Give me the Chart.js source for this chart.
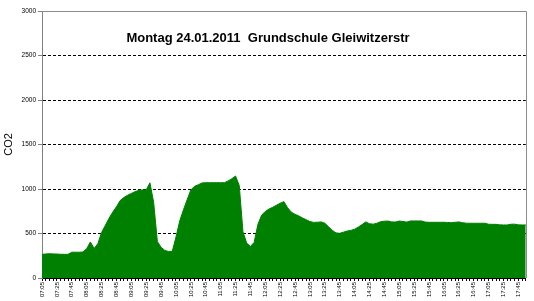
<!DOCTYPE html>
<html>
<head>
<meta charset="utf-8">
<script src="https://cdn.jsdelivr.net/npm/chart.js@4"></script>
<style>
  html, body { margin: 0; padding: 0; background: #fff; }
  #wrap { width: 534px; height: 301px; }
</style>
</head>
<body>
<div id="wrap"><canvas id="co2-chart"></canvas></div>
<script>
const chartTitle = 'Montag 24.01.2011  Grundschule Gleiwitzerstr';

// measurement times, every 5 minutes
const times = [
  '07:05','07:10','07:15','07:20','07:25','07:30','07:35','07:40','07:45','07:50','07:55',
  '08:00','08:05','08:10','08:15','08:20','08:25','08:30','08:35','08:40','08:45','08:50','08:55',
  '09:00','09:05','09:10','09:15','09:20','09:25','09:30','09:35','09:40','09:45','09:50','09:55',
  '10:00','10:05','10:10','10:15','10:20','10:25','10:30','10:35','10:40','10:45','10:50','10:55',
  '11:00','11:05','11:10','11:15','11:20','11:25','11:30','11:35','11:40','11:45','11:50','11:55',
  '12:00','12:05','12:10','12:15','12:20','12:25','12:30','12:35','12:40','12:45','12:50','12:55',
  '13:00','13:05','13:10','13:15','13:20','13:25','13:30','13:35','13:40','13:45','13:50','13:55',
  '14:00','14:05','14:10','14:15','14:20','14:25','14:30','14:35','14:40','14:45','14:50','14:55',
  '15:00','15:05','15:10','15:15','15:20','15:25','15:30','15:35','15:40','15:45','15:50','15:55',
  '16:00','16:05','16:10','16:15','16:20','16:25','16:30','16:35','16:40','16:45','16:50','16:55',
  '17:00','17:05','17:10','17:15','17:20','17:25','17:30','17:35','17:40','17:45','17:50','17:55'
];

// CO2 (ppm)
const co2 = [
  266, 270, 273, 271, 269, 267, 266, 266, 290, 290, 290, 292,
  330, 405, 332, 385, 510, 590, 670, 740, 800, 870, 905, 930,
  950, 970, 985, 989, 990, 1070, 850, 410, 345, 310, 298, 300,
  460, 640, 765, 880, 990, 1030, 1048, 1068, 1071, 1071, 1071, 1071,
  1071, 1071, 1090, 1115, 1146, 1040, 520, 392, 355, 400, 600, 705,
  748, 775, 795, 818, 840, 858, 790, 740, 715, 698, 675, 655,
  634, 625, 627, 630, 616, 575, 535, 507, 502, 515, 528, 535,
  548, 572, 600, 630, 610, 605, 615, 633, 638, 640, 630, 630,
  640, 635, 628, 641, 641, 641, 641, 628, 626, 626, 626, 626,
  626, 624, 622, 626, 630, 622, 616, 615, 615, 615, 615, 615,
  604, 603, 603, 597, 596, 596, 604, 605, 597, 596, 596
];

const yTicks = [0, 500, 1000, 1500, 2000, 2500, 3000];

const frameAndTitle = {
  id: 'frameAndTitle',
  afterDraw(chart) {
    const { ctx, chartArea: a } = chart;
    ctx.save();
    // grey plot border on top and right
    ctx.strokeStyle = '#8c8c8c';
    ctx.lineWidth = 1;
    ctx.beginPath();
    ctx.moveTo(a.left, Math.round(a.top) + 0.5);
    ctx.lineTo(Math.round(a.right) + 0.5, Math.round(a.top) + 0.5);
    ctx.lineTo(Math.round(a.right) + 0.5, a.bottom);
    ctx.stroke();
    // title sits inside the plot
    ctx.fillStyle = '#000';
    ctx.font = 'bold 13px Arial, "Liberation Sans", sans-serif';
    ctx.textAlign = 'center';
    ctx.textBaseline = 'middle';
    ctx.fillText(chartTitle, 268, 38);
    ctx.restore();
  }
};

const ctx = document.getElementById('co2-chart').getContext('2d');
new Chart(ctx, {
  type: 'line',
  data: {
    labels: times,
    datasets: [{
      label: 'CO2',
      data: co2,
      fill: 'origin',
      backgroundColor: '#008000',
      borderColor: '#008000',
      borderWidth: 1,
      pointRadius: 0,
      tension: 0
    }]
  },
  options: {
    responsive: true,
    maintainAspectRatio: false,
    animation: false,
    layout: { padding: { top: 11, right: 8, left: 0, bottom: 0 } },
    plugins: {
      legend: { display: false },
      tooltip: { enabled: false }
    },
    scales: {
      x: {
        offset: false,
        afterFit(scale) { scale.height = 23; },
        grid: {
          display: true,
          drawOnChartArea: false,
          color: '#000',
          tickLength: 3
        },
        border: { color: '#000', width: 1 },
        ticks: {
          autoSkip: false,
          minRotation: 90,
          maxRotation: 90,
          padding: 1,
          color: '#000',
          font: { family: 'Arial, "Liberation Sans", sans-serif', size: 6 },
          callback: (v, i) => (i % 4 === 0 ? times[i] : '')
        }
      },
      y: {
        min: 0,
        max: 3000,
        afterFit(scale) { scale.width = 42; },
        afterBuildTicks(scale) { scale.ticks = yTicks.map(v => ({ value: v })); },
        grid: {
          color: c => (c.tick && (c.tick.value === 0 || c.tick.value === 3000) ? 'rgba(0,0,0,0)' : '#000'),
          tickColor: '#808080',
          tickLength: 4,
          lineWidth: 1
        },
        border: { color: '#808080', width: 1, dash: [3, 2] },
        ticks: {
          padding: 2,
          color: '#000',
          font: { family: 'Arial, "Liberation Sans", sans-serif', size: 6.5 },
          callback: v => String(v)
        },
        title: {
          display: true,
          text: 'CO2',
          color: '#000',
          padding: { top: 2, bottom: 0 },
          font: { family: 'Arial, "Liberation Sans", sans-serif', size: 11 }
        }
      }
    }
  },
  plugins: [frameAndTitle]
});
</script>
</body>
</html>
